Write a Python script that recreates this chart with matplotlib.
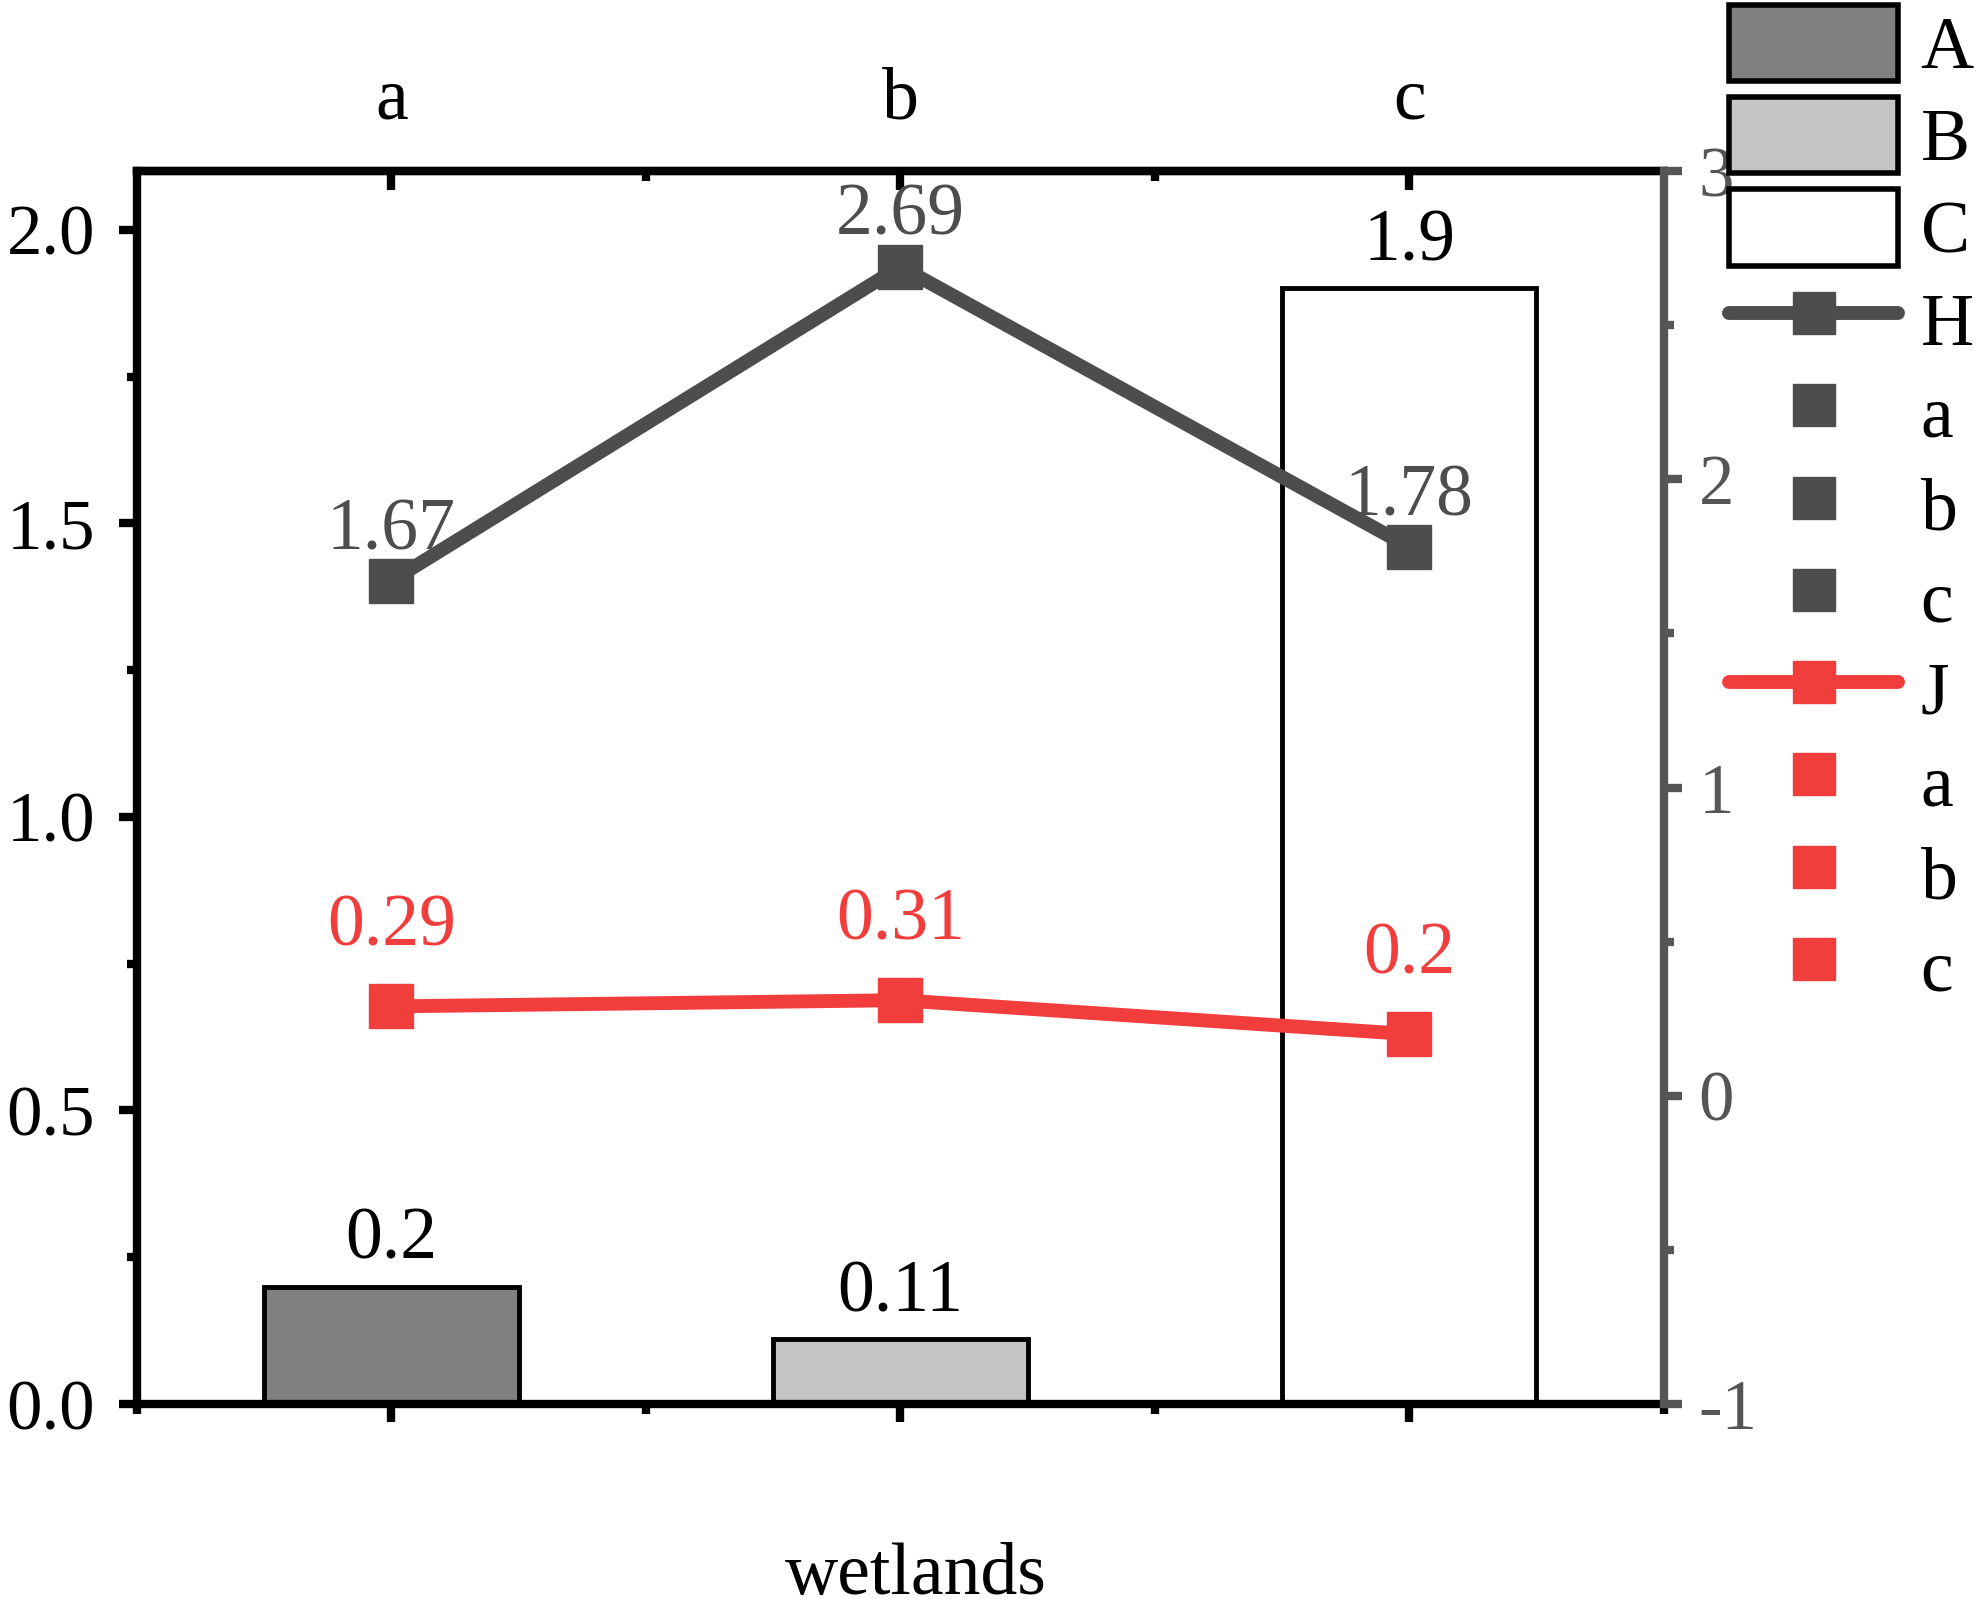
import matplotlib
matplotlib.use("Agg")
import matplotlib.pyplot as plt
from matplotlib.lines import Line2D
from matplotlib.patches import Patch
from matplotlib.ticker import FixedLocator, MultipleLocator

plt.rcParams["font.family"] = ["Liberation Serif", "DejaVu Serif"]
plt.rcParams["axes.unicode_minus"] = False

# data
groups = ["a", "b", "c"]
bar_names = ["A", "B", "C"]
bar_vals = [0.2, 0.11, 1.9]
h_vals = [1.67, 2.69, 1.78]
j_vals = [0.29, 0.31, 0.2]

BAR_COLORS = ["#808080", "#c4c4c4", "#ffffff"]
GRAY, RED, AXGRAY = "#4d4d4d", "#f23d3d", "#555555"
FS = 53      # labels / legend
TFS = 51     # tick labels
SPW = 6

x = list(range(1, len(groups) + 1))

fig = plt.figure(figsize=(19.83, 16.09), dpi=100)
ax = fig.add_axes([0.069, 0.1274, 0.770, 0.7663])

ax.bar(x, bar_vals, width=0.5, color=BAR_COLORS, edgecolor="black", linewidth=3.5, zorder=2)
for xi, v in zip(x, bar_vals):
    ax.annotate(f"{v:g}", (xi, v), xytext=(0, 20), textcoords="offset points",
                ha="center", va="baseline", fontsize=FS, color="black")

ax.set_xlim(0.5, 3.5)
ax.set_ylim(0, 2.1)
ax.xaxis.set_major_locator(FixedLocator(x))
ax.xaxis.set_minor_locator(FixedLocator([0.5, 1.5, 2.5, 3.5]))
ax.yaxis.set_major_locator(MultipleLocator(0.5))
ax.yaxis.set_minor_locator(MultipleLocator(0.25))
ax.tick_params(axis="x", which="both", top=False, labelbottom=False, direction="out")
ax.tick_params(axis="y", which="both", right=False, direction="out", labelsize=TFS, pad=17)
ax.tick_params(which="major", length=13, width=SPW)
ax.tick_params(which="minor", length=7, width=SPW)
for s in ["left", "top", "bottom"]:
    ax.spines[s].set_linewidth(SPW)
ax.spines["right"].set_visible(False)

# top axis with group labels, inward ticks
top = ax.secondary_xaxis("top")
top.set_xticks(x, groups)
top.xaxis.set_minor_locator(FixedLocator([1.5, 2.5]))
top.tick_params(which="both", direction="in", width=SPW, labelsize=FS, pad=26)
top.tick_params(which="major", length=14)
top.tick_params(which="minor", length=7)
top.spines["top"].set_linewidth(SPW)

ax.set_xlabel("wetlands", fontsize=FS)
ax.xaxis.set_label_coords(0.51, -0.112)

# right axis with lines
ax2 = ax.twinx()
ax2.set_ylim(-1, 3)
ax2.yaxis.set_major_locator(MultipleLocator(1))
ax2.yaxis.set_minor_locator(MultipleLocator(0.5))
ax2.tick_params(axis="y", which="both", direction="out", colors=AXGRAY, labelsize=TFS, pad=12)
ax2.tick_params(which="major", length=13, width=SPW)
ax2.tick_params(which="minor", length=7, width=SPW)
for s in ["left", "top", "bottom"]:
    ax2.spines[s].set_visible(False)
ax2.spines["right"].set_color(AXGRAY)
ax2.spines["right"].set_linewidth(SPW)

ax2.plot(x, h_vals, color=GRAY, lw=10, marker="s", ms=32, zorder=3)
ax2.plot(x, j_vals, color=RED, lw=10, marker="s", ms=32, zorder=3)
for xi, v in zip(x, h_vals):
    ax2.annotate(f"{v:g}", (xi, v), xytext=(0, 23), textcoords="offset points",
                 ha="center", va="baseline", fontsize=FS, color=GRAY)
for xi, v in zip(x, j_vals):
    ax2.annotate(f"{v:g}", (xi, v), xytext=(0, 44), textcoords="offset points",
                 ha="center", va="baseline", fontsize=FS, color=RED)

# legend (Origin style: series plus each point)
handles, labels = [], []
for name, c in zip(bar_names, BAR_COLORS):
    handles.append(Patch(facecolor=c, edgecolor="black", linewidth=4))
    labels.append(name)
for name, c in [("H", GRAY), ("J", RED)]:
    handles.append(Line2D([], [], color=c, lw=10, marker="s", ms=30, solid_capstyle="round"))
    labels.append(name)
    for g in groups:
        handles.append(Line2D([], [], ls="none", color=c, marker="s", ms=30))
        labels.append(g)

fig.legend(handles, labels, loc="upper left", bbox_to_anchor=(0.872, 0.997), frameon=False,
           fontsize=FS, handlelength=2.3, handleheight=1.22, labelspacing=0.18,
           handletextpad=0.3, borderpad=0, borderaxespad=0)

fig.savefig("out.png", dpi=100)
